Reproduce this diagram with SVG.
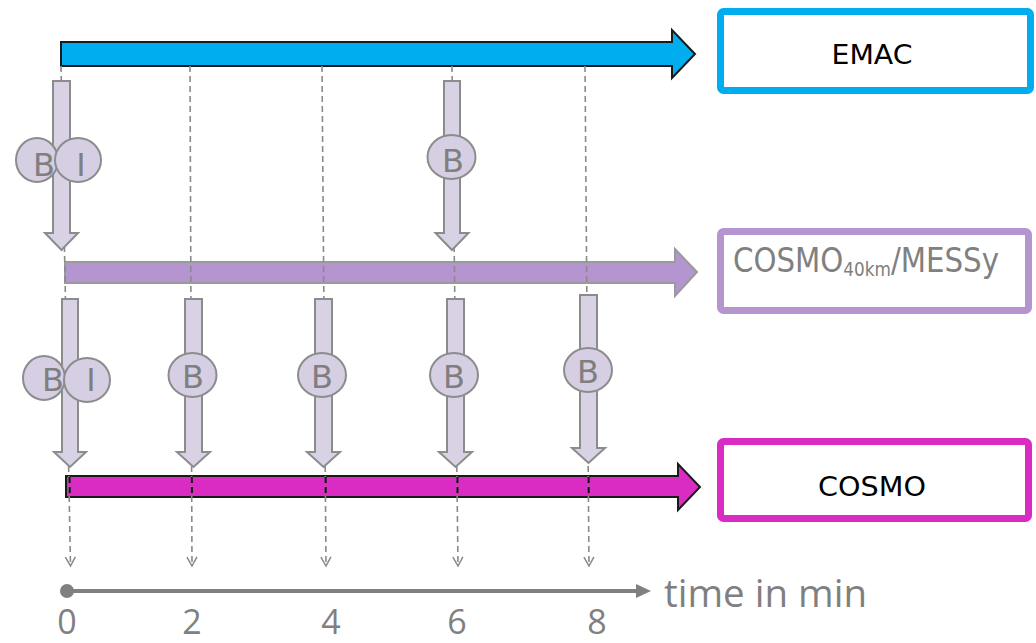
<svg xmlns="http://www.w3.org/2000/svg" width="1036" height="643" viewBox="0 0 1036 643">
<defs>
<marker id="v" markerUnits="userSpaceOnUse" markerWidth="14" markerHeight="14" viewBox="-12 -7 14 14" refX="0" refY="0" orient="auto">
<path d="M-9,-5 L0,0 L-9,5" fill="none" stroke="#888" stroke-width="1.5"/>
</marker>
</defs>
<style>
.dash{stroke:#8a8a8a;stroke-width:1.6;stroke-dasharray:6 4;fill:none}
.dashk{stroke:#111;stroke-width:2;stroke-dasharray:6 4;fill:none}
.ga{fill:#d8d2e4;stroke:#8c8c8c;stroke-width:2}
.gc{fill:#d6cfe4;stroke:#8c8c8c;stroke-width:2}
.gt{font-family:"DejaVu Sans",sans-serif;font-size:32px;fill:#7f7f7f;text-anchor:middle}
.lbl{font-family:"DejaVu Sans",sans-serif;font-size:27px;fill:#000;text-anchor:middle}
.ax{font-family:"Open Sans","Noto Sans",sans-serif;fill:#808080}
</style>
<g id="emac-arrow"><polygon points="61,42 672,42 672,30 695,54 672,78 672,66 61,66" fill="#00aeef" stroke="#1a1a1a" stroke-width="2"/></g>
<g id="cosmo40-arrow"><polygon points="65,262 675,262 675,249 697,272 675,296 675,283 65,283" fill="#b495d0" stroke="#9a9a9a" stroke-width="2"/></g>
<g id="cosmo-arrow"><polygon points="66,476 678,476 678,464 700,487 678,510 678,497 66,497" fill="#da2cc2" stroke="#1a1a1a" stroke-width="2"/></g>
<g id="emac"><rect x="720.5" y="11.5" width="310" height="79" rx="3" fill="#fff" stroke="#00aeef" stroke-width="7"/><text class="lbl" x="872" y="64" textLength="81" lengthAdjust="spacingAndGlyphs">EMAC</text></g>
<g id="cosmo40"><rect x="720.5" y="231.5" width="308" height="79" rx="3" fill="#fff" stroke="#b495d0" stroke-width="7"/>
<text x="733" y="272" font-family="DejaVu Sans, sans-serif" fill="#808080" font-size="33" textLength="266" lengthAdjust="spacingAndGlyphs">COSMO<tspan font-size="19" dy="4">40km</tspan><tspan dy="-4">/MESSy</tspan></text></g>
<g id="cosmo"><rect x="720.5" y="441.5" width="308" height="77" rx="3" fill="#fff" stroke="#da2cc2" stroke-width="7"/><text class="lbl" x="872" y="496" textLength="108" lengthAdjust="spacingAndGlyphs">COSMO</text></g>
<g id="connectors">
<line class="dash" x1="61" y1="66" x2="70.5" y2="566" marker-end="url(#v)"/>
<line class="dash" x1="190" y1="66" x2="192" y2="566" marker-end="url(#v)"/>
<line class="dash" x1="322" y1="66" x2="326" y2="566" marker-end="url(#v)"/>
<line class="dash" x1="452" y1="66" x2="458" y2="566" marker-end="url(#v)"/>
<line class="dash" x1="585" y1="66" x2="589" y2="566" marker-end="url(#v)"/>
<line class="dashk" x1="69.5" y1="477" x2="69.8" y2="497"/>
<line class="dashk" x1="191.8" y1="477" x2="191.9" y2="497"/>
<line class="dashk" x1="325.6" y1="477" x2="325.7" y2="497"/>
<line class="dashk" x1="457.4" y1="477" x2="457.5" y2="497"/>
<line class="dashk" x1="588.6" y1="477" x2="588.7" y2="497"/>
<polygon class="ga" points="53,81 70,81 70,233 78,233 61.5,250 45,233 53,233"/>
<polygon class="ga" points="444,81 460,81 460,233 468.5,233 452,250 435.5,233 444,233"/>
<polygon class="ga" points="62,299 78,299 78,452 86,452 70,467 54,452 62,452"/>
<polygon class="ga" points="185,299 202,299 202,452 210,452 193.5,467 177,452 185,452"/>
<polygon class="ga" points="315,299 332,299 332,452 340,452 323.5,467 307,452 315,452"/>
<polygon class="ga" points="447,299 464,299 464,452 472,452 455.5,467 439,452 447,452"/>
<polygon class="ga" points="580,295 597,295 597,448 605,448 588.5,463 572,448 580,448"/>
</g>
<g id="b1"><ellipse class="gc" cx="37" cy="160" rx="21" ry="22"/><text class="gt" x="44" y="176">B</text></g>
<g id="i1"><ellipse class="gc" cx="78" cy="160" rx="23" ry="22"/><text class="gt" x="81" y="176">I</text></g>
<g id="b2"><ellipse class="gc" cx="451.5" cy="157" rx="24" ry="22"/><text class="gt" x="453" y="172">B</text></g>
<g id="b3"><ellipse class="gc" cx="44" cy="378" rx="21" ry="22"/><text class="gt" x="53" y="391">B</text></g>
<g id="i3"><ellipse class="gc" cx="87" cy="380" rx="23" ry="22"/><text class="gt" x="91" y="391">I</text></g>
<g id="b4"><ellipse class="gc" cx="192.5" cy="375" rx="24" ry="22"/><text class="gt" x="193" y="388">B</text></g>
<g id="b5"><ellipse class="gc" cx="322" cy="375" rx="24" ry="22"/><text class="gt" x="322" y="388">B</text></g>
<g id="b6"><ellipse class="gc" cx="454" cy="375" rx="24" ry="22"/><text class="gt" x="454" y="388">B</text></g>
<g id="b7"><ellipse class="gc" cx="588" cy="370" rx="24" ry="22"/><text class="gt" x="588" y="383">B</text></g>
<g id="axis">
<circle cx="67" cy="591" r="7" fill="#808080"/>
<line x1="67" y1="591" x2="640" y2="591" stroke="#808080" stroke-width="4"/>
<polygon points="636,584 651,591 636,598" fill="#808080"/>
<text class="ax" x="664" y="607" font-size="38" textLength="203" lengthAdjust="spacingAndGlyphs">time in min</text>
<g class="ax" font-size="34" text-anchor="middle">
<text x="67" y="634">0</text><text x="192" y="634">2</text><text x="331" y="634">4</text><text x="457" y="634">6</text><text x="597" y="634">8</text>
</g>
</g>
</svg>
